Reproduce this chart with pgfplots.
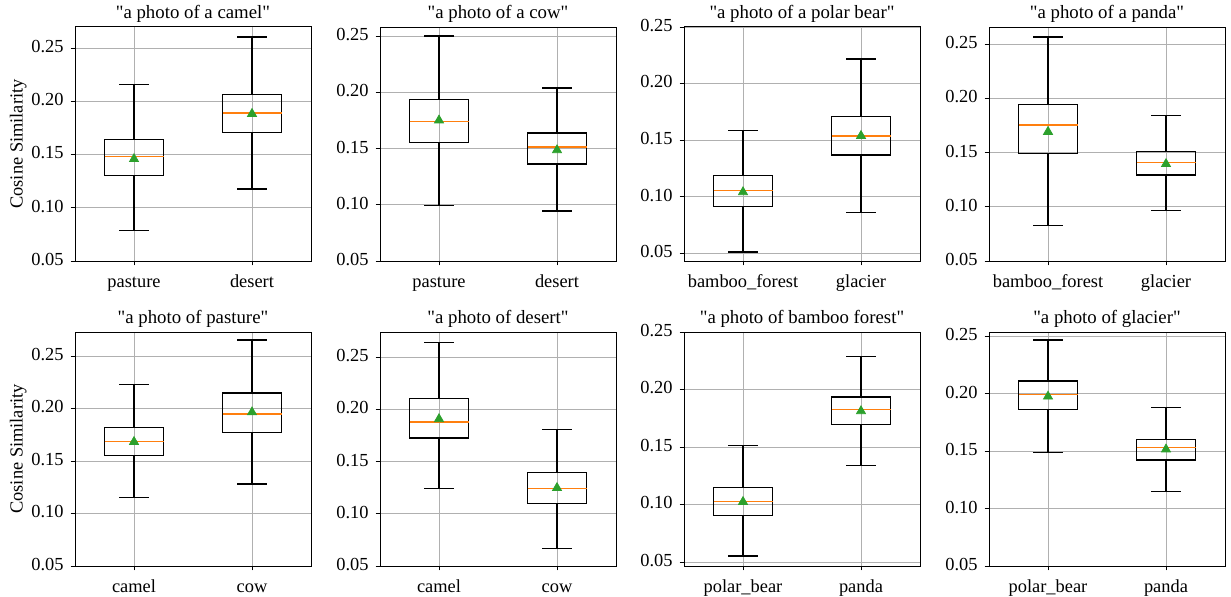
\documentclass[border=0pt]{standalone}
\usepackage{fontspec}
\setmainfont{Liberation Serif}[Ligatures=TeXOff]
\usepackage{pgfplots}
\pgfplotsset{compat=1.18}
\usepgfplotslibrary{statistics}

\definecolor{mplorange}{HTML}{FF7F0E}
\definecolor{mplgreen}{HTML}{2CA02C}
\definecolor{gridgray}{HTML}{B0B0B0}

\newcommand{\lbl}{\fontsize{9.2}{11}\selectfont}

\pgfplotsset{
  panel/.style={
    scale only axis, width=118pt, height=117pt, anchor=south west,
    xmin=0.5, xmax=2.5, xtick={1,2},
    ytick={0.05,0.1,0.15,0.2,0.25},
    scaled y ticks=false,
    grid=major, major grid style={gridgray, line width=0.45pt},
    tick align=outside, xtick pos=bottom, ytick pos=left,
    major tick length=2.2pt, tick style={black, line width=0.45pt},
    axis line style={line width=0.5pt},
    /pgf/number format/assume math mode=true,
    tick label style={font=\lbl},
    typeset ticklabels with strut,
    yticklabel style={/pgf/number format/fixed, /pgf/number format/fixed zerofill,
      /pgf/number format/precision=2},
    title style={font=\fontsize{9.4}{11}\selectfont, at={(0.5,1)}, anchor=base, yshift=-1.8pt},
    ylabel style={font=\lbl, yshift=-4.5pt},
    boxplot/draw direction=y,
    boxplot/box extend=0.5, boxplot/whisker extend=0.25,
    boxplot/every median/.style={draw=mplorange, line width=0.75pt},
  },
  bx/.style={black, line width=0.65pt, solid, mark=none},
  mean/.style={only marks, mark=triangle*, mark size=2.6pt, color=mplgreen},
}

\begin{document}
\begin{tikzpicture}
\useasboundingbox (0,0) rectangle (615.5pt,298pt);

% ---- top row ----
\begin{axis}[panel, at={(37.5pt,167.5pt)}, ymin=0.05, ymax=0.2697,
  title={"a photo of a camel"}, ylabel={Cosine Similarity},
  xticklabels={pasture, desert}]
\addplot+[bx, boxplot prepared={draw position=1, lower whisker=0.0788, lower quartile=0.130,
  median=0.1481, upper quartile=0.1644, upper whisker=0.2156}] coordinates {};
\addplot+[bx, boxplot prepared={draw position=2, lower whisker=0.1175, lower quartile=0.1709,
  median=0.1888, upper quartile=0.2066, upper whisker=0.2603}] coordinates {};
\addplot[mean] coordinates {(1,0.1458) (2,0.1882)};
\end{axis}

\begin{axis}[panel, at={(190pt,167.5pt)}, ymin=0.05, ymax=0.2583,
  title={"a photo of a cow"},
  xticklabels={pasture, desert}]
\addplot+[bx, boxplot prepared={draw position=1, lower whisker=0.0996, lower quartile=0.1558,
  median=0.1744, upper quartile=0.1936, upper whisker=0.2502}] coordinates {};
\addplot+[bx, boxplot prepared={draw position=2, lower whisker=0.0946, lower quartile=0.1363,
  median=0.1513, upper quartile=0.164, upper whisker=0.2039}] coordinates {};
\addplot[mean] coordinates {(1,0.1752) (2,0.1487)};
\end{axis}

\begin{axis}[panel, at={(342pt,167.5pt)}, ymin=0.0432, ymax=0.25,
  title={"a photo of a polar bear"},
  xticklabels={bamboo\_forest, glacier}]
\addplot+[bx, boxplot prepared={draw position=1, lower whisker=0.0512, lower quartile=0.0915,
  median=0.1053, upper quartile=0.1185, upper whisker=0.1588}] coordinates {};
\addplot+[bx, boxplot prepared={draw position=2, lower whisker=0.0862, lower quartile=0.1368,
  median=0.1535, upper quartile=0.1709, upper whisker=0.2218}] coordinates {};
\addplot[mean] coordinates {(1,0.1041) (2,0.1538)};
\end{axis}

\begin{axis}[panel, at={(494.5pt,167.5pt)}, ymin=0.05, ymax=0.266,
  title={"a photo of a panda"},
  xticklabels={bamboo\_forest, glacier}]
\addplot+[bx, boxplot prepared={draw position=1, lower whisker=0.0825, lower quartile=0.1494,
  median=0.1755, upper quartile=0.1942, upper whisker=0.2567}] coordinates {};
\addplot+[bx, boxplot prepared={draw position=2, lower whisker=0.0963, lower quartile=0.1295,
  median=0.1408, upper quartile=0.1512, upper whisker=0.1844}] coordinates {};
\addplot[mean] coordinates {(1,0.1693) (2,0.1396)};
\end{axis}

% ---- bottom row ----
\begin{axis}[panel, at={(37.5pt,15pt)}, ymin=0.05, ymax=0.2728,
  title={"a photo of pasture"}, ylabel={Cosine Similarity},
  xticklabels={camel, cow}]
\addplot+[bx, boxplot prepared={draw position=1, lower whisker=0.1153, lower quartile=0.1555,
  median=0.1685, upper quartile=0.1822, upper whisker=0.2227}] coordinates {};
\addplot+[bx, boxplot prepared={draw position=2, lower whisker=0.128, lower quartile=0.1768,
  median=0.1949, upper quartile=0.2148, upper whisker=0.2652}] coordinates {};
\addplot[mean] coordinates {(1,0.1682) (2,0.1964)};
\end{axis}

\begin{axis}[panel, at={(190pt,15pt)}, ymin=0.05, ymax=0.2742,
  title={"a photo of desert"},
  xticklabels={camel, cow}]
\addplot+[bx, boxplot prepared={draw position=1, lower whisker=0.1245, lower quartile=0.1726,
  median=0.1882, upper quartile=0.2102, upper whisker=0.264}] coordinates {};
\addplot+[bx, boxplot prepared={draw position=2, lower whisker=0.0669, lower quartile=0.1102,
  median=0.1245, upper quartile=0.1395, upper whisker=0.1809}] coordinates {};
\addplot[mean] coordinates {(1,0.1908) (2,0.1248)};
\end{axis}

\begin{axis}[panel, at={(342pt,15pt)}, ymin=0.0465, ymax=0.25,
  title={"a photo of bamboo forest"},
  xticklabels={polar\_bear, panda}]
\addplot+[bx, boxplot prepared={draw position=1, lower whisker=0.0552, lower quartile=0.0905,
  median=0.1026, upper quartile=0.115, upper whisker=0.1514}] coordinates {};
\addplot+[bx, boxplot prepared={draw position=2, lower whisker=0.1338, lower quartile=0.1697,
  median=0.1824, upper quartile=0.1936, upper whisker=0.2289}] coordinates {};
\addplot[mean] coordinates {(1,0.1023) (2,0.1812)};
\end{axis}

\begin{axis}[panel, at={(494.5pt,15pt)}, ymin=0.05, ymax=0.254,
  title={"a photo of glacier"},
  xticklabels={polar\_bear, panda}]
\addplot+[bx, boxplot prepared={draw position=1, lower whisker=0.1488, lower quartile=0.1862,
  median=0.1993, upper quartile=0.2114, upper whisker=0.2471}] coordinates {};
\addplot+[bx, boxplot prepared={draw position=2, lower whisker=0.1152, lower quartile=0.1425,
  median=0.1532, upper quartile=0.1604, upper whisker=0.1883}] coordinates {};
\addplot[mean] coordinates {(1,0.1978) (2,0.1517)};
\end{axis}
\end{tikzpicture}
\end{document}
